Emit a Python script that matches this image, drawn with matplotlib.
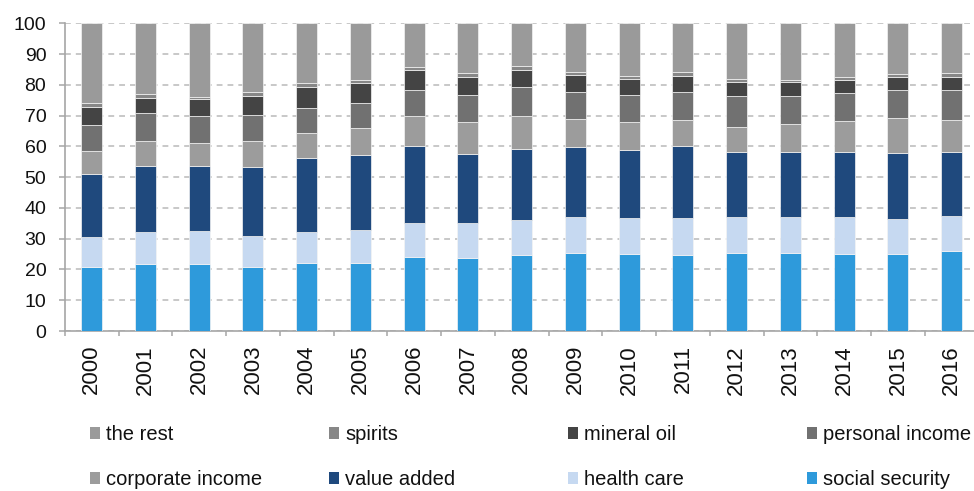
import matplotlib
matplotlib.use("Agg")
import matplotlib.pyplot as plt
from matplotlib.patches import Patch
import numpy as np

plt.rcParams['font.family'] = ['Liberation Sans', 'DejaVu Sans']

years = ['2000', '2001', '2002', '2003', '2004', '2005', '2006', '2007', '2008',
         '2009', '2010', '2011', '2012', '2013', '2014', '2015', '2016']

social_security  = [20.9, 21.7, 21.9, 20.9, 22.2, 22.2, 24.1, 23.8, 24.8, 25.2, 24.9, 24.8, 25.2, 25.2, 25.0, 25.0, 26.0]
health_care      = [9.8, 10.4, 10.7, 10.0, 10.1, 10.6, 11.1, 11.3, 11.3, 12.0, 11.9, 11.9, 12.0, 12.0, 11.9, 11.5, 11.3]
value_added      = [20.2, 21.6, 20.9, 22.5, 24.0, 24.5, 24.9, 22.5, 23.2, 22.7, 22.1, 23.4, 21.0, 20.9, 21.3, 21.5, 20.8]
corporate_income = [7.7, 8.1, 7.7, 8.4, 8.2, 8.8, 9.8, 10.3, 10.6, 8.9, 9.0, 8.4, 8.2, 9.2, 10.1, 11.2, 10.5]
personal_income  = [8.4, 8.9, 8.7, 8.4, 8.1, 8.0, 8.4, 8.8, 9.3, 8.9, 8.8, 9.2, 9.9, 9.1, 8.9, 9.0, 9.6]
mineral_oil      = [5.9, 5.1, 5.6, 6.3, 6.8, 6.6, 6.6, 6.0, 5.7, 5.6, 5.3, 5.2, 4.7, 4.6, 4.5, 4.5, 4.5]
spirits          = [1.3, 1.3, 0.7, 1.2, 1.2, 0.9, 1.0, 1.0, 1.3, 1.0, 1.0, 1.2, 0.8, 0.5, 1.0, 0.8, 1.0]
the_rest         = [25.8, 22.9, 23.8, 22.3, 19.4, 18.4, 14.1, 16.3, 13.8, 15.7, 17.0, 15.9, 18.2, 18.5, 17.3, 16.5, 16.3]

series = [
    ('social security', social_security, '#2E9ADB'),
    ('health care', health_care, '#C6D9F1'),
    ('value added', value_added, '#1F497D'),
    ('corporate income', corporate_income, '#9C9C9C'),
    ('personal income', personal_income, '#717171'),
    ('mineral oil', mineral_oil, '#444444'),
    ('spirits', spirits, '#878787'),
    ('the rest', the_rest, '#9A9A9A'),
]

W, H = 974, 491
fig = plt.figure(figsize=(W / 100, H / 100), dpi=100)
x_left, x_right = 64.8, 978.6
y_bot, y_top = 331.0, 23.3
ax = fig.add_axes([x_left / W, (H - y_bot) / H, (x_right - x_left) / W, (y_bot - y_top) / H])

x = np.arange(len(years))
bottom = np.zeros(len(years))
for name, vals, col in series:
    v = np.array(vals)
    ax.bar(x, v, width=0.39, bottom=bottom, color=col, edgecolor='#f4f4f4',
           linewidth=0.5, zorder=3)
    bottom += v

ax.set_xlim(-0.5, len(years) - 0.5)
ax.set_ylim(0, 100)
ax.set_yticks(np.arange(0, 101, 10))
ax.tick_params(axis='y', direction='out', length=4.3, width=1.1, color='#A6A6A6',
               labelsize=14, pad=9, labelcolor='#111111')
ax.yaxis.grid(True, color='#BFBFBF', linewidth=1.2, linestyle=(0, (3.5, 3.0)), zorder=0)
ax.set_axisbelow(True)

ax.set_xticks(x)
ax.set_xticklabels(years, rotation=90, fontsize=16, color='#111111')
ax.set_xticks(np.arange(-0.5, len(years), 1.0), minor=True)
ax.tick_params(axis='x', which='major', length=0, pad=10)
ax.tick_params(axis='x', which='minor', direction='out', length=3.8, width=1.1, color='#A6A6A6')

for s in ['top', 'right']:
    ax.spines[s].set_visible(False)
for s in ['left', 'bottom']:
    ax.spines[s].set_color('#A6A6A6')
    ax.spines[s].set_linewidth(1.2)

# legend: two rows, four columns
legend_order = [
    ('the rest', '#9A9A9A'), ('spirits', '#878787'), ('mineral oil', '#444444'), ('personal income', '#717171'),
    ('corporate income', '#9C9C9C'), ('value added', '#1F497D'), ('health care', '#C6D9F1'), ('social security', '#2E9ADB'),
]
col_x = [90, 329, 568, 807]
row_y = [434.5, 479.5]
fs = 14.5
for i, (lab, col) in enumerate(legend_order):
    r, c = divmod(i, 4)
    fig.legend(handles=[Patch(facecolor=col, edgecolor='none', label=lab)],
               loc='center left', bbox_to_anchor=(col_x[c] / W, (H - row_y[r]) / H),
               bbox_transform=fig.transFigure, frameon=False, fontsize=fs,
               handlelength=0.5, handleheight=0.5, handletextpad=0.3,
               borderpad=0, borderaxespad=0, labelcolor='#111111')

fig.savefig('out.png', dpi=100)
